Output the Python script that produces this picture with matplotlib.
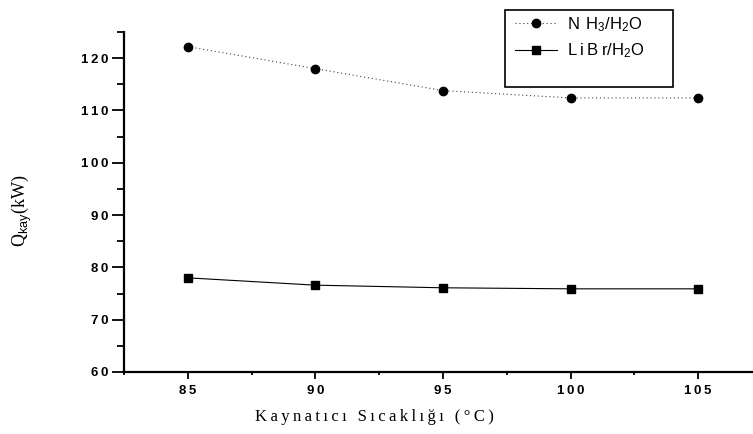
import matplotlib
matplotlib.use('Agg')
import matplotlib.pyplot as plt
from matplotlib.ticker import MultipleLocator, FuncFormatter
from matplotlib.patches import Rectangle

temps = [85, 90, 95, 100, 105]
q_nh3 = [122.2, 118.0, 113.8, 112.4, 112.4]
q_libr = [78.0, 76.6, 76.1, 75.9, 75.9]

plt.rcParams['font.family'] = 'Liberation Sans'
plt.rcParams['mathtext.fontset'] = 'custom'
plt.rcParams['mathtext.rm'] = 'Liberation Sans'
plt.rcParams['mathtext.it'] = 'Liberation Sans'


def spaced(v, pos):
    return '\u2009'.join(str(int(v)))


fig = plt.figure(figsize=(7.53, 4.34), dpi=100)
ax = fig.add_axes([124 / 753, 62 / 434, 629 / 753, 340 / 434])

ax.plot(temps, q_nh3, color='0.25', linestyle=(0, (1, 2.5)), lw=0.8,
        marker='o', markersize=6, markerfacecolor='black', markeredgecolor='black',
        label='N\u2009\u2009H$_3$/H$_2$O')
ax.plot(temps, q_libr, color='black', linestyle='-', lw=0.8,
        marker='s', markersize=5.5, markerfacecolor='black', markeredgecolor='black',
        label='L\u2009i\u2009B\u2009r/H$_2$O')

ax.set_xlim(82.5, 107.15)
ax.set_ylim(60, 125)
ax.xaxis.set_major_locator(MultipleLocator(5))
ax.xaxis.set_minor_locator(MultipleLocator(2.5))
ax.yaxis.set_major_locator(MultipleLocator(10))
ax.yaxis.set_minor_locator(MultipleLocator(5))
ax.xaxis.set_major_formatter(FuncFormatter(spaced))
ax.yaxis.set_major_formatter(FuncFormatter(spaced))

for s in ['top', 'right']:
    ax.spines[s].set_visible(False)
for s in ['left', 'bottom']:
    ax.spines[s].set_linewidth(1.6)

ax.tick_params(axis='y', which='major', direction='out', length=8.5, width=1.3, pad=3,
               labelsize=9.5)
ax.tick_params(axis='y', which='minor', direction='out', length=5, width=1.3)
ax.tick_params(axis='x', which='major', direction='out', length=5, width=1.3, pad=4,
               labelsize=9.5)
ax.tick_params(axis='x', which='minor', direction='out', length=2.5, width=1.3)
for lab in ax.get_xticklabels() + ax.get_yticklabels():
    lab.set_fontweight('bold')

fig.text(374 / 753, 1 - 417 / 434,
         '\u2009'.join('Kaynatıcı Sıcaklığı (°C)'),
         family='Liberation Serif', fontsize=12, ha='center', va='center')
fig.text(22 / 753, 1 - 211 / 434, 'Q$_{kay}$(kW)', family='Liberation Serif',
         fontsize=13, rotation=90, ha='center', va='center')

fig.patches.append(Rectangle((505 / 753, 1 - 87 / 434), 168 / 753, 77 / 434,
                             transform=fig.transFigure, fill=False,
                             edgecolor='black', lw=1.2))
ax.legend(loc='upper left', bbox_to_anchor=(512 / 753, 1 - 12 / 434),
          bbox_transform=fig.transFigure, frameon=False, fontsize=12,
          handlelength=2.5, handletextpad=0.6, labelspacing=0.45,
          borderaxespad=0, borderpad=0.2)

fig.savefig('out.png', dpi=100)
